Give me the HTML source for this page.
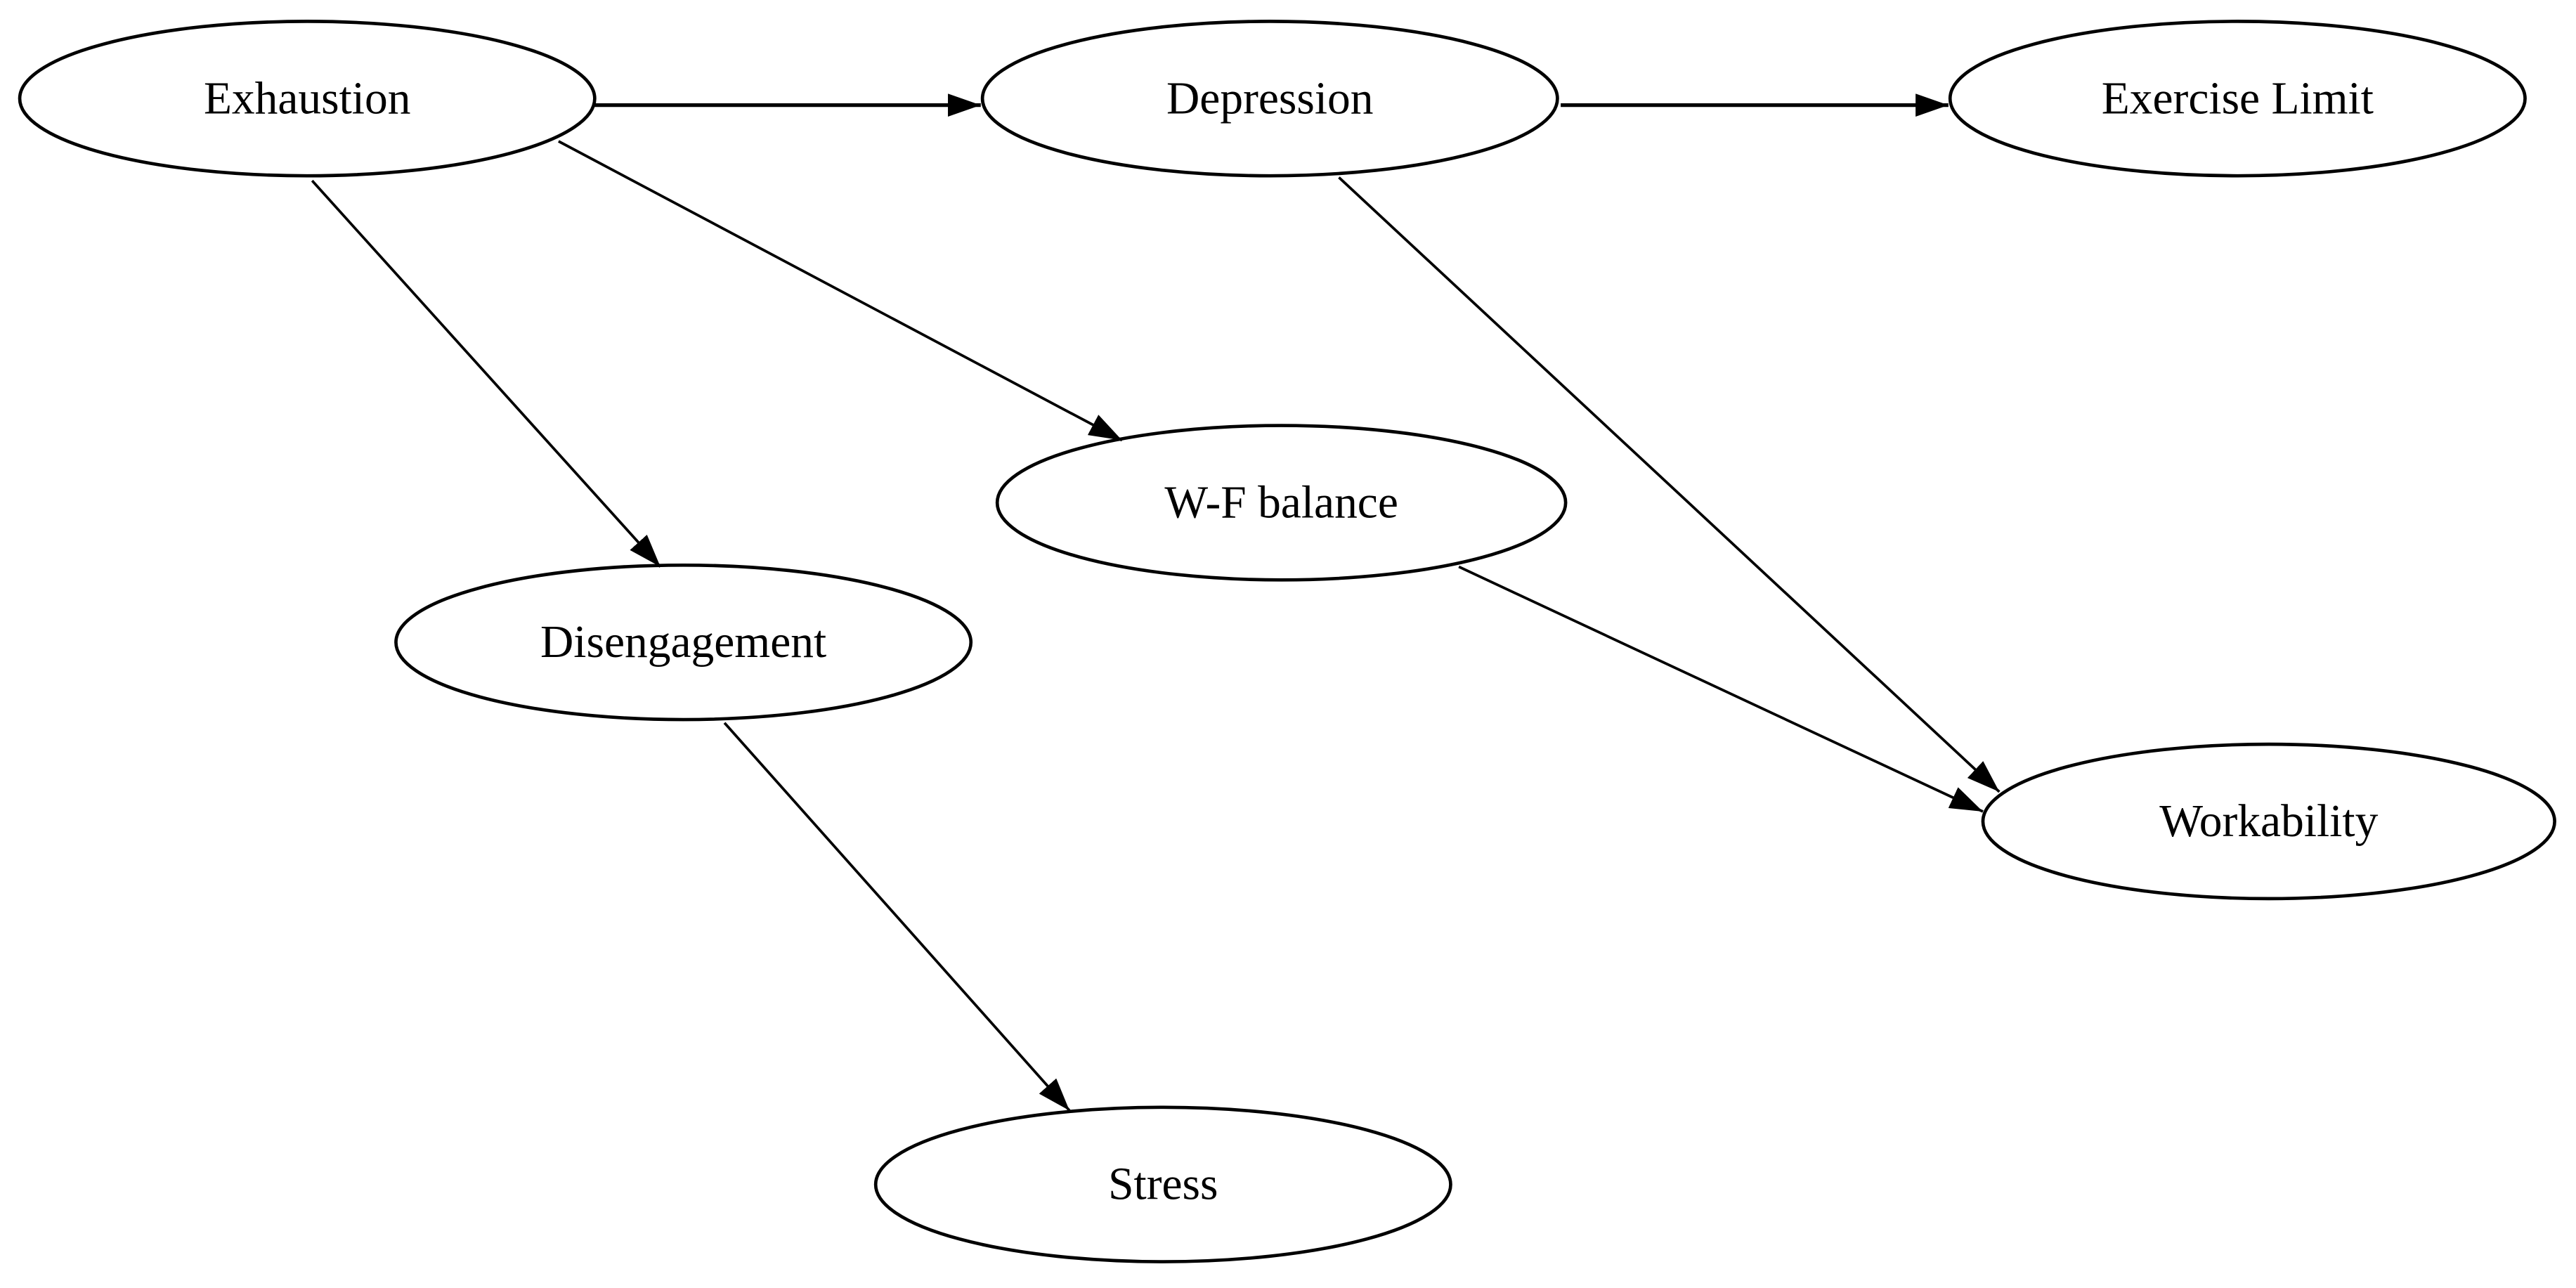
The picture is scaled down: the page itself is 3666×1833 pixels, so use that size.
<!DOCTYPE html>
<html><head><meta charset="utf-8"><style>html,body{margin:0;padding:0;background:#fff}svg{display:block}</style></head>
<body>
<svg width="3666" height="1833" viewBox="0 0 1568 784" preserveAspectRatio="none" xmlns="http://www.w3.org/2000/svg">
<defs>
<marker id="a" viewBox="0 0 20 14" refX="20" refY="7" markerWidth="20" markerHeight="14" markerUnits="userSpaceOnUse" orient="auto">
<path d="M0,0 L20,7 L0,14 Z" fill="#000"/>
</marker>
</defs>
<g fill="#fff" stroke="#000" stroke-width="2">
<ellipse cx="187" cy="60" rx="175" ry="47"/>
<ellipse cx="773" cy="60" rx="175" ry="47"/>
<ellipse cx="1362" cy="60" rx="175" ry="47"/>
<ellipse cx="780" cy="306" rx="173" ry="47"/>
<ellipse cx="416" cy="391" rx="175" ry="47"/>
<ellipse cx="1381" cy="500" rx="174" ry="47"/>
<ellipse cx="708" cy="721" rx="175" ry="47"/>
</g>
<g stroke="#000" stroke-width="1.6" fill="none" marker-end="url(#a)">
<line x1="362" y1="64" x2="597" y2="64" stroke-width="2.2"/>
<line x1="950" y1="64" x2="1186" y2="64" stroke-width="2.2"/>
<line x1="340" y1="86" x2="683" y2="268"/>
<line x1="190" y1="110" x2="402" y2="345"/>
<line x1="815" y1="108" x2="1217" y2="482"/>
<line x1="888" y1="345" x2="1207" y2="494"/>
<line x1="441" y1="440" x2="651" y2="676"/>
</g>
<g font-family="'Liberation Serif', serif" font-size="28" text-anchor="middle" fill="#000">
<text x="187" y="69">Exhaustion</text>
<text x="773" y="69">Depression</text>
<text x="1362" y="69">Exercise Limit</text>
<text x="780" y="315">W-F balance</text>
<text x="416" y="400">Disengagement</text>
<text x="1381" y="509">Workability</text>
<text x="708" y="730">Stress</text>
</g>
</svg>
</body></html>
